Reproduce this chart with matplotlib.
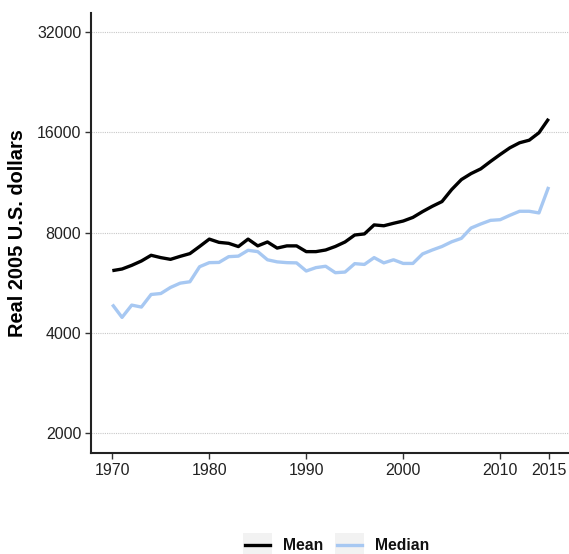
import matplotlib
matplotlib.use("Agg")
import matplotlib.pyplot as plt
from matplotlib.ticker import FixedLocator, NullLocator
from matplotlib.patches import Rectangle
from matplotlib.lines import Line2D

plt.rcParams["font.family"] = ["Liberation Sans", "DejaVu Sans"]

years = list(range(1970, 2016))
mean_vals = [6150, 6220, 6380, 6575, 6840, 6730, 6650, 6790, 6920, 7270,
             7650, 7480, 7430, 7265, 7650, 7300, 7500, 7190, 7300, 7300,
             7015, 7015, 7095, 7270, 7500, 7870, 7930, 8440, 8390, 8535,
             8670, 8890, 9255, 9600, 9920, 10780, 11550, 12040, 12440, 13090,
             13740, 14390, 14900, 15170, 15970, 17590]
median_vals = [4865, 4450, 4845, 4780, 5215, 5250, 5475, 5640, 5695, 6320,
               6500, 6510, 6775, 6800, 7080, 7015, 6630, 6535, 6500, 6490,
               6135, 6280, 6340, 6063, 6090, 6455, 6420, 6730, 6490, 6630,
               6465, 6465, 6905, 7095, 7270, 7510, 7690, 8260, 8495, 8710,
               8750, 9020, 9275, 9275, 9170, 10980]
y_ticks = [2000, 4000, 8000, 16000, 32000]
x_ticks = [1970, 1980, 1990, 2000, 2010, 2015]
series_names = ["Mean", "Median"]
series_colors = ["black", "#a7c8f2"]

W, H = 569, 554
fig = plt.figure(figsize=(W / 100, H / 100), dpi=100)
left, right, top, bottom = 91, 569, 13, 453
ax = fig.add_axes([left / W, 1 - bottom / H, (right - left) / W, (bottom - top) / H])

ax.plot(years, mean_vals, color=series_colors[0], lw=2.4, solid_capstyle="butt")
ax.plot(years, median_vals, color=series_colors[1], lw=2.4, solid_capstyle="butt")

ax.set_yscale("log", base=2)
ax.set_ylim(1741, 36580)
ax.set_xlim(1967.8, 2017.1)
ax.yaxis.set_major_locator(FixedLocator(y_ticks))
ax.yaxis.set_minor_locator(NullLocator())
ax.set_yticklabels([str(v) for v in y_ticks])
ax.set_xticks(x_ticks)
ax.set_xticklabels([str(v) for v in x_ticks])

ax.grid(axis="y", color="#c8c8c8", lw=0.8, ls=(0, (1, 1)))
ax.set_axisbelow(True)
for s in ["top", "right"]:
    ax.spines[s].set_visible(False)
for s in ["left", "bottom"]:
    ax.spines[s].set_linewidth(1.5)
    ax.spines[s].set_color("#222222")
ax.tick_params(axis="both", length=4, width=1.0, color="#333333", labelsize=11.5,
               labelcolor="#222222", pad=3)

ax.set_ylabel("Real 2005 U.S. dollars", fontsize=14.4, fontweight="bold")
ax.yaxis.set_label_coords(-64 / (right - left), 0.5)

# legend (ggplot-style keys with grey background)
def fx(px):
    return px / W

def fy(py):
    return 1 - py / H

key_boxes = [(243, 272), (335, 364)]
text_x = [283, 375]
ycen = 545
for name, col, (x0, x1), tx in zip(series_names, series_colors, key_boxes, text_x):
    fig.patches.append(Rectangle((fx(x0), fy(ycen + 12)), fx(x1 - x0), (24 / H),
                                 transform=fig.transFigure, facecolor="#f2f2f2",
                                 edgecolor="none"))
    fig.lines.append(Line2D([fx(x0 + 2), fx(x1 - 2)], [fy(ycen), fy(ycen)],
                            transform=fig.transFigure, color=col, lw=2.4))
    fig.text(fx(tx), fy(ycen), name, ha="left", va="center", fontsize=11.3,
             fontweight="bold", color="#111111")

fig.savefig("out.png", dpi=100, facecolor="white")
